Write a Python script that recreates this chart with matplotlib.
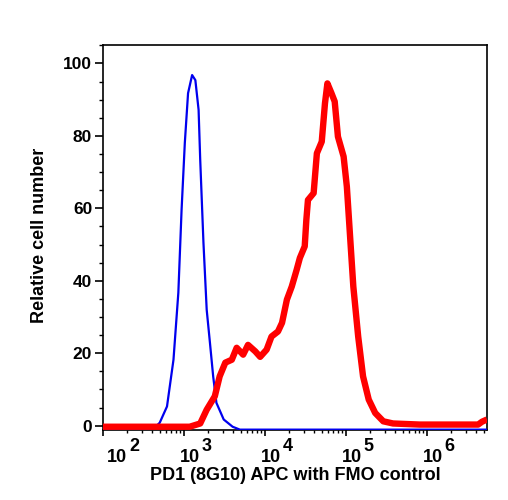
import numpy as np
import matplotlib
matplotlib.use('Agg')
import matplotlib.pyplot as plt
from matplotlib.ticker import LogLocator, NullFormatter, MultipleLocator, FixedLocator
import matplotlib.transforms as mtransforms

# ---- data (log10 of intensity, relative cell number) ----
blue_log_x = [2.00, 2.52, 2.64, 2.70, 2.79, 2.87, 2.93, 2.97, 3.01, 3.05, 3.10, 3.14,
              3.18, 3.20, 3.24, 3.28, 3.32, 3.36, 3.40, 3.49, 3.60, 3.69, 6.74]
blue_y = [-1.1, -1.1, -0.5, 0.8, 5.3, 18.2, 36.7, 59.6, 78.1, 91.8, 96.8, 95.4,
          87.2, 73.4, 50.5, 32.0, 22.9, 13.6, 6.3, 1.7, -0.3, -1.1, -1.1]

red_log_x = [2.00, 3.07, 3.20, 3.28, 3.38, 3.44, 3.51, 3.59, 3.65, 3.73, 3.79, 3.88,
             3.94, 4.02, 4.08, 4.16, 4.21, 4.27, 4.33, 4.39, 4.43, 4.49, 4.51, 4.53,
             4.60, 4.64, 4.70, 4.74, 4.77, 4.82, 4.86, 4.90, 4.97, 5.01, 5.05, 5.09,
             5.15, 5.21, 5.28, 5.36, 5.46, 5.58, 5.91, 6.63, 6.68, 6.74]
red_y = [-0.3, -0.3, 0.6, 4.4, 8.1, 13.6, 17.4, 18.2, 21.5, 19.6, 22.3, 20.5,
         19.0, 21.0, 24.6, 26.0, 28.4, 34.8, 38.4, 43.0, 46.3, 49.5, 56.8, 62.3,
         64.2, 75.2, 78.4, 89.0, 94.5, 91.8, 89.5, 79.8, 74.3, 66.0, 52.2, 38.4,
         24.6, 13.6, 7.2, 3.5, 1.2, 0.6, 0.3, 0.3, 1.1, 1.7]

decades = [2, 3, 4, 5, 6]
y_ticks = [0, 20, 40, 60, 80, 100]
x_label = "PD1 (8G10) APC with FMO control"
y_label = "Relative cell number"

plt.rcParams['font.family'] = ['Liberation Sans', 'DejaVu Sans']
plt.rcParams['font.weight'] = 'bold'

fig = plt.figure(figsize=(5.08, 5.00), dpi=100)
ax = fig.add_axes([103 / 508, 70 / 500, 384 / 508, 385 / 500])

ax.plot(10 ** np.array(blue_log_x), blue_y, color='#0000ee', lw=1.6,
        solid_joinstyle='round', zorder=3)
ax.plot(10 ** np.array(red_log_x), red_y, color='#ff0000', lw=4.6,
        solid_joinstyle='round', solid_capstyle='butt', zorder=4)

ax.set_xscale('log')
ax.set_xlim(1e2, 10 ** 6.74)
ax.set_ylim(-1.2, 105.1)

ax.xaxis.set_major_locator(FixedLocator([10.0 ** d for d in decades]))
ax.xaxis.set_minor_locator(LogLocator(base=10, subs=np.arange(2, 10), numticks=20))
ax.xaxis.set_major_formatter(NullFormatter())
ax.xaxis.set_minor_formatter(NullFormatter())
ax.yaxis.set_major_locator(FixedLocator(y_ticks))
ax.yaxis.set_minor_locator(MultipleLocator(5))

for s in ax.spines.values():
    s.set_linewidth(1.2)

ax.tick_params(axis='x', which='major', direction='out', length=4.5, width=1.2)
ax.tick_params(axis='x', which='minor', direction='out', length=2.3, width=1.0)
ax.tick_params(axis='y', which='major', direction='out', length=5.8, width=1.2,
               labelsize=12.5, pad=2)
ax.tick_params(axis='y', which='minor', direction='out', length=3.0, width=1.0)
for lab in ax.get_yticklabels():
    lab.set_fontweight('bold')

# decade labels: "10" with a full-size raised exponent
base_tr = ax.get_xaxis_transform()
for d in decades:
    dx = (25 if d == decades[0] else 16.5) / 100.0
    tr_base = base_tr + mtransforms.ScaledTranslation(dx - 0.01, -32 / 100.0, fig.dpi_scale_trans)
    tr_sup = base_tr + mtransforms.ScaledTranslation(dx + 0.01, -21 / 100.0, fig.dpi_scale_trans)
    ax.text(10.0 ** d, 0, "10", transform=tr_base, ha='right', va='baseline',
            fontsize=13, fontweight='bold', clip_on=False)
    ax.text(10.0 ** d, 0, str(d), transform=tr_sup, ha='left', va='baseline',
            fontsize=13, fontweight='bold', clip_on=False)

ax.set_xlabel(x_label, fontsize=13, fontweight='bold', va='top')
ax.xaxis.set_label_coords(0.5, (430 - 467) / 385)
ax.set_ylabel(y_label, fontsize=13, fontweight='bold', va='center')
ax.yaxis.set_label_coords((40 - 103) / 384, (430 - 235) / 385)

fig.savefig('out.png', dpi=100)
